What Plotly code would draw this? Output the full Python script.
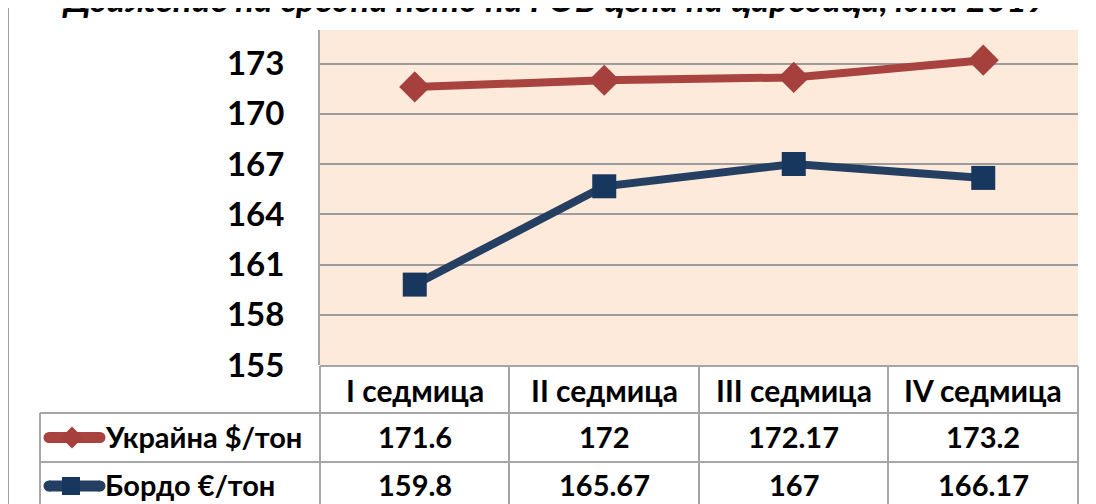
import plotly.graph_objects as go

categories = ["I седмица", "II седмица", "III седмица", "IV седмица"]
ukraine = [171.6, 172, 172.17, 173.2]
bordeaux = [159.8, 165.67, 167, 166.17]
series_names = ["Украйна $/тон", "Бордо €/тон"]
y_ticks = [155, 158, 161, 164, 167, 170, 173]
title_text = "Движение на средна нето на FOB цена на царевица, юни 2019"

# page has an 8px body margin; work in reference-page pixels and convert
OFF = 8
W, H = 1096 - OFF, 504 - OFF
PL, PR, PT, PB = 320, 1078, 30, 365  # plot area in page pixels
ML, MR, MT, MB = PL - OFF, (W + OFF) - PR, PT - OFF, (H + OFF) - PB
PW = PR - PL
PH = PB - PT

def px(x):
    return (x - PL) / PW

def py(y):
    return (PB - y) / PH

RED_L, RED_M = "#A9433F", "#A5403D"
BLUE_L, BLUE_M = "#243F62", "#17375E"
GRID = "#9C9C9C"
TBL = "#A6A6A6"
FONT = "Lato"

fig = go.Figure()
fig.add_trace(go.Scatter(x=categories, y=ukraine, mode="lines+markers", name=series_names[0],
                         line=dict(color=RED_L, width=8),
                         marker=dict(symbol="diamond", size=24, color=RED_M, line=dict(width=0))))
fig.add_trace(go.Scatter(x=categories, y=bordeaux, mode="lines+markers", name=series_names[1],
                         line=dict(color=BLUE_L, width=8),
                         marker=dict(symbol="square", size=24, color=BLUE_M, line=dict(width=0))))

shapes = []
def hline(y, x0, x1, color=TBL, w=2):
    shapes.append(dict(type="line", xref="paper", yref="paper", x0=px(x0), x1=px(x1), y0=py(y), y1=py(y),
                       line=dict(color=color, width=w), layer="above"))
def vline(x, y0, y1, color=TBL, w=2):
    shapes.append(dict(type="line", xref="paper", yref="paper", x0=px(x), x1=px(x), y0=py(y0), y1=py(y1),
                       line=dict(color=color, width=w), layer="above"))

# outer chart border
shapes.append(dict(type="rect", xref="paper", yref="paper", x0=px(8), x1=px(1130), y0=py(7), y1=py(540),
                   line=dict(color="#A0A0A0", width=2), fillcolor="rgba(0,0,0,0)", layer="below"))

# table grid
hline(366, 320, 1078)
hline(413, 40, 1078)
hline(462, 40, 1078)
for c in [320, 509, 699, 888, 1078]:
    vline(c, 366, 540)
vline(40, 413, 540)

# legend keys
key_y = [437.5, 486]
for yc, lc, mc, sym in zip(key_y, [RED_L, BLUE_L], [RED_M, BLUE_M], ["diamond", "square"]):
    lw = 11
    hline(yc, 49, 100, color=lc, w=lw)
    for cx in (49, 100):
        shapes.append(dict(type="circle", xref="paper", yref="paper",
                           x0=px(cx - lw / 2), x1=px(cx + lw / 2), y0=py(yc - lw / 2), y1=py(yc + lw / 2),
                           line=dict(width=0), fillcolor=lc, layer="above"))
    if sym == "diamond":
        r = 11
        path = f"M {px(72 - r)} {py(yc)} L {px(72)} {py(yc - r)} L {px(72 + r)} {py(yc)} L {px(72)} {py(yc + r)} Z"
        shapes.append(dict(type="path", xref="paper", yref="paper", path=path,
                           line=dict(width=0), fillcolor=mc, layer="above"))
    else:
        r = 9
        shapes.append(dict(type="rect", xref="paper", yref="paper", x0=px(71 - r), x1=px(71 + r),
                           y0=py(yc - r), y1=py(yc + r), line=dict(width=0), fillcolor=mc, layer="above"))

annotations = []
for c in categories:
    annotations.append(dict(x=c, xref="x", y=py(389.5), yref="paper", text=c, showarrow=False,
                            font=dict(family=FONT, size=30, color="black", weight="bold"),
                            xanchor="center", yanchor="middle"))

def fmt(v):
    return f"{v:g}"

for vals, yc in zip([ukraine, bordeaux], [436.5, 484.5]):
    for c, v in zip(categories, vals):
        annotations.append(dict(x=c, xref="x", y=py(yc), yref="paper", text=fmt(v), showarrow=False,
                                font=dict(family=FONT, size=29, color="black", weight="bold"),
                                xanchor="center", yanchor="middle"))
for name, yc in zip(series_names, [436.5, 484.5]):
    annotations.append(dict(x=px(103), xref="paper", y=py(yc), yref="paper", text=name, showarrow=False,
                            font=dict(family=FONT, size=29, color="black", weight="bold"),
                            xanchor="left", yanchor="middle"))
# title (mostly cut off at top of the page)
annotations.append(dict(x=px(554), xref="paper", y=py(-2), yref="paper", text=title_text, showarrow=False,
                        font=dict(family=FONT, size=35, color="black", weight="bold", style="italic"),
                        xanchor="center", yanchor="middle"))

fig.update_layout(
    width=W, height=H,
    margin=dict(l=ML, r=MR, t=MT, b=MB, pad=0),
    paper_bgcolor="white",
    plot_bgcolor="#FDEADA",
    showlegend=False,
    shapes=shapes,
    annotations=annotations,
    font=dict(family=FONT),
)
fig.update_xaxes(type="category", range=[-0.5, 3.5], showticklabels=False, showgrid=False,
                 zeroline=False, showline=False, fixedrange=True)
fig.update_yaxes(range=[155, 175], tickvals=y_ticks, ticktext=[str(t) for t in y_ticks],
                 showgrid=True, gridcolor=GRID, gridwidth=2, zeroline=False,
                 showline=True, linecolor=TBL, linewidth=2,
                 tickfont=dict(family=FONT, size=33, color="black", weight="bold"),
                 ticks="", ticklabelstandoff=27, fixedrange=True)

fig.write_html("out.html")
